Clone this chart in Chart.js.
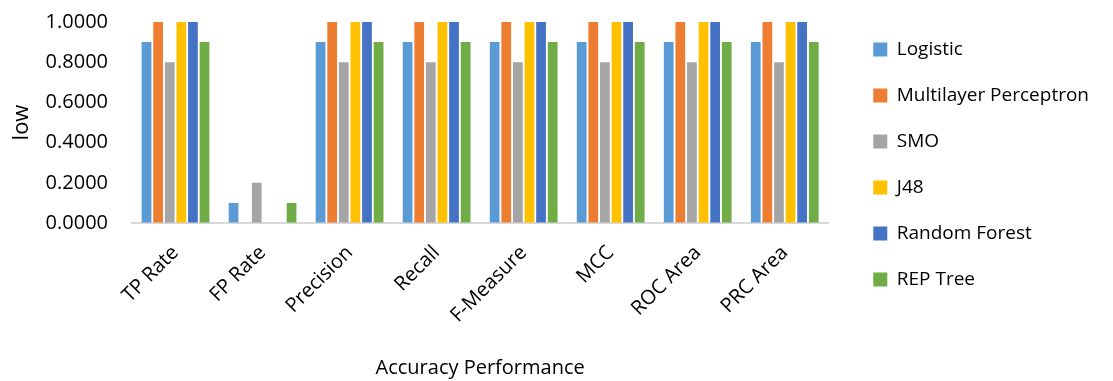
<!DOCTYPE html>
<html>
<head>
<meta charset="utf-8">
<script src="https://cdn.jsdelivr.net/npm/chart.js@4.4.0/dist/chart.umd.min.js"></script>
<style>
  html, body { margin: 0; padding: 0; background: #ffffff; }
  #wrap { width: 1113px; height: 381px; position: relative; }
</style>
</head>
<body>
<div id="wrap"><canvas id="c" width="1113" height="381"></canvas></div>
<script>
const categories = ["TP Rate", "FP Rate", "Precision", "Recall", "F-Measure", "MCC", "ROC Area", "PRC Area"];
const seriesNames = ["Logistic", "Multilayer Perceptron", "SMO", "J48", "Random Forest", "REP Tree"];
const logistic     = [0.9, 0.1, 0.9, 0.9, 0.9, 0.9, 0.9, 0.9];
const multilayer   = [1.0, 0.0, 1.0, 1.0, 1.0, 1.0, 1.0, 1.0];
const smo          = [0.8, 0.2, 0.8, 0.8, 0.8, 0.8, 0.8, 0.8];
const j48          = [1.0, 0.0, 1.0, 1.0, 1.0, 1.0, 1.0, 1.0];
const randomForest = [1.0, 0.0, 1.0, 1.0, 1.0, 1.0, 1.0, 1.0];
const repTree      = [0.9, 0.1, 0.9, 0.9, 0.9, 0.9, 0.9, 0.9];
const colors = ["#5B9BD5", "#ED7D31", "#A5A5A5", "#FFC000", "#4472C4", "#70AD47"];
const yTickValues = [0, 0.2, 0.4, 0.6, 0.8, 1.0];
const yTitle = "low";
const xTitle = "Accuracy Performance";

const allSeries = [logistic, multilayer, smo, j48, randomForest, repTree];
const FONT = "'Open Sans', 'Liberation Sans', sans-serif";

const datasets = allSeries.map((d, i) => ({
  label: seriesNames[i],
  data: d,
  backgroundColor: colors[i],
  borderWidth: 0,
  categoryPercentage: 0.8,
  barPercentage: 0.84
}));

// nudge the legend block to where the reference places it
const legendShift = {
  id: 'legendShift',
  afterLayout(chart) {
    const l = chart.legend;
    if (!l) return;
    const dx = 18, dy = -9;
    l.left += dx; l.right += dx;
    l.top += dy; l.bottom += dy;
  }
};

new Chart(document.getElementById('c'), {
  type: 'bar',
  data: { labels: categories, datasets },
  plugins: [legendShift],
  options: {
    responsive: false,
    animation: false,
    devicePixelRatio: 1,
    layout: { padding: { top: 22, left: 0, right: 32, bottom: 0 } },
    plugins: {
      legend: {
        position: 'right',
        align: 'start',
        labels: {
          font: { family: FONT, size: 19 },
          color: '#000000',
          boxWidth: 14,
          boxHeight: 14,
          padding: 27
        }
      },
      tooltip: { enabled: false }
    },
    scales: {
      x: {
        grid: { display: false, drawTicks: false },
        border: { display: true, color: '#D9D9D9', width: 2 },
        ticks: {
          font: { family: FONT, size: 20 },
          color: '#000000',
          maxRotation: 45,
          minRotation: 45,
          padding: 18
        },
        title: {
          display: true,
          text: xTitle,
          font: { family: FONT, size: 20 },
          color: '#000000',
          padding: { top: 4, bottom: 1 }
        },
        afterFit: s => { s.height = 158; }
      },
      y: {
        min: 0,
        max: 1,
        afterBuildTicks: s => { s.ticks = yTickValues.map(v => ({ value: v })); },
        grid: {
          display: true,
          drawOnChartArea: false,
          drawTicks: true,
          tickLength: 24,
          color: 'rgba(0,0,0,0)',
          tickColor: 'rgba(0,0,0,0)'
        },
        border: { display: false },
        ticks: {
          font: { family: FONT, size: 20 },
          color: '#000000',
          padding: 0,
          callback: v => Number(v).toFixed(4)
        },
        title: {
          display: true,
          text: yTitle,
          font: { family: FONT, size: 22 },
          color: '#000000',
          padding: { top: 9, bottom: 4 }
        },
        afterFit: s => { s.width = 132; }
      }
    }
  }
});
</script>
</body>
</html>
